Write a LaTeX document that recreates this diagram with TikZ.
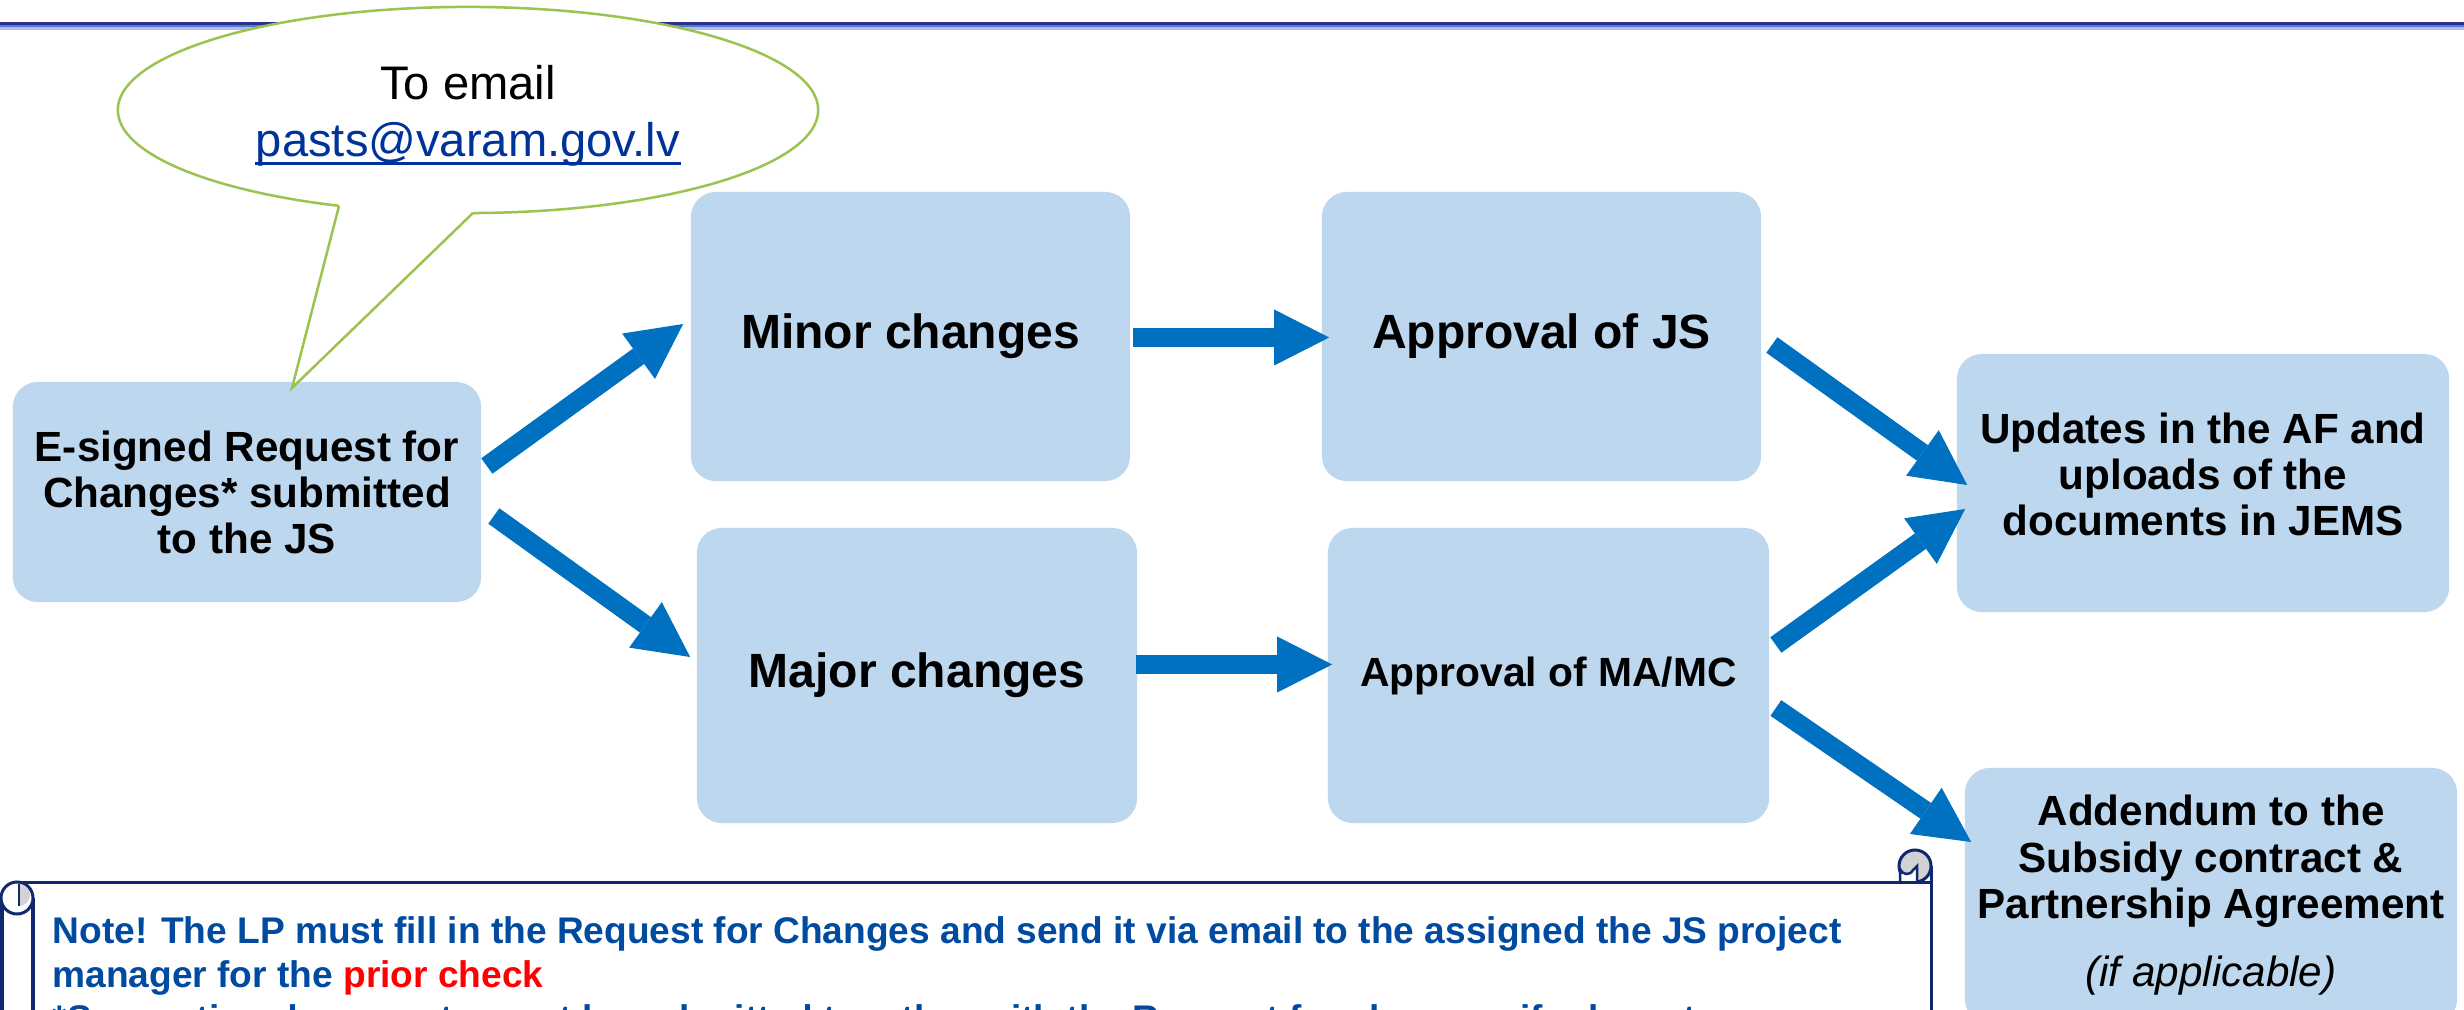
\documentclass[tikz,border=0pt]{standalone}
\usepackage{fontspec}
\setmainfont{Liberation Sans}
\usetikzlibrary{arrows.meta,calc}
\definecolor{boxblue}{RGB}{189,215,238}
\definecolor{arrowblue}{RGB}{0,112,192}
\definecolor{calloutgreen}{RGB}{155,195,80}
\definecolor{maillink}{RGB}{0,51,153}
\definecolor{notenavy}{RGB}{16,40,110}
\definecolor{notetext}{RGB}{0,75,160}
\definecolor{rulenavy}{RGB}{40,50,140}
\definecolor{ruleblue}{RGB}{90,120,210}
\definecolor{rulelight}{RGB}{175,190,236}
\definecolor{curlgray}{RGB}{210,210,210}
\begin{document}
\begin{tikzpicture}[x=0.01cm,y=-0.01cm,
  stepbox/.style={fill=boxblue, rounded corners=0.25cm, inner sep=0pt, align=center,
    font=\bfseries\fontsize{12}{13.1}\selectfont},
  bigtext/.style={font=\bfseries\fontsize{13.66}{15}\selectfont},
  blk/.style={draw=arrowblue, line width=0.19cm,
    -{Triangle[length=0.55cm,width=0.56cm,line width=0pt]}},
  notestyle/.style={anchor=base west, inner sep=0pt, text=notetext,
    font=\bfseries\fontsize{10.55}{12}\selectfont},
  scrollline/.style={draw=notenavy, line width=0.03cm},
  addtext/.style={anchor=base, inner sep=0pt, font=\bfseries\fontsize{12}{13.1}\selectfont}
]
\useasboundingbox (0,0) rectangle (2464,1010);
\clip (0,0) rectangle (2464,1010);
\fill[white] (0,0) rectangle (2464,1010);

% top rule
\draw[rulenavy, line width=0.025cm] (0,23.5) -- (2464,23.5);
\draw[ruleblue, line width=0.02cm] (0,25.8) -- (2464,25.8);
\draw[rulelight, line width=0.03cm] (0,28.5) -- (2464,28.5);

% boxes
\node[stepbox, minimum width=4.68cm, minimum height=2.2cm] (req) at (247,492)
  {E-signed Request for\\Changes* submitted\\to the JS};
\node[stepbox, bigtext, minimum width=4.39cm, minimum height=2.89cm] (minor) at (910.5,336.5) {Minor changes};
\node[stepbox, bigtext, minimum width=4.39cm, minimum height=2.89cm] (js) at (1541.5,336.5) {Approval of JS};
\node[stepbox, bigtext, minimum width=4.40cm, minimum height=2.95cm] (major) at (917,675.5) {Major changes};
\node[stepbox, minimum width=4.41cm, minimum height=2.95cm, font=\bfseries\fontsize{11.6}{13}\selectfont] (mamc) at (1548.5,675.5) {Approval of MA/MC};
\node[stepbox, minimum width=4.92cm, minimum height=2.58cm] (upd) at (2203,483) {};
\node[align=center, inner sep=0pt, font=\bfseries\fontsize{12}{13.1}\selectfont] (updtext) at (2203,474)
  {Updates in the AF and\\uploads of the\\documents in JEMS};
\node[stepbox, minimum width=4.92cm, minimum height=2.56cm] (add) at (2211,896) {};
\node[addtext] (add1) at (2211,825) {Addendum to the};
\node[addtext] (add2) at (2211,872) {Subsidy contract \&};
\node[addtext] (add3) at (2211,918) {Partnership Agreement};
\node[addtext, font=\itshape\fontsize{12}{13.1}\selectfont] (add4) at (2211,986) {(if applicable)};

% arrows
\draw[blk] ($(req.east)+(5,-26)$) -- ($(minor.west)+(-7,-12.5)$);
\draw[blk] ($(req.east)+(12,24)$) -- ($(major.west)+(-6,-18.5)$);
\draw[blk] ($(minor.east)+(2,1)$) -- ($(js.west)+(8,1)$);
\draw[blk] ($(major.east)+(-2,-11)$) -- ($(mamc.west)+(5,-11)$);
\draw[blk] ($(js.east)+(10,8.5)$) -- ($(upd.west)+(11,2)$);
\draw[blk] ($(mamc.east)+(6,-30.5)$) -- ($(upd.west)+(9,26)$);
\draw[blk] ($(mamc.east)+(6,32.5)$) -- ($(add.west)+(7,-54)$);

% callout
\draw[calloutgreen, line width=0.025cm, fill=white] (468,110) ellipse [x radius=3.5cm, y radius=1.03cm];
\fill[white] (292,388) -- (339,206) -- (339,192) -- (473,192) -- (473,213) -- cycle;
\draw[calloutgreen, line width=0.025cm, line join=miter] (339,206) -- (292,388) -- (473,213);
\node[anchor=base, inner sep=0pt, font=\fontsize{13.4}{16}\selectfont] (toemail) at (468,100) {To email};
\node[anchor=base, inner sep=0pt, text=maillink, font=\fontsize{13.4}{16}\selectfont] (mail) at (468,157) {pasts@varam.gov.lv};
\draw[maillink, line width=0.03cm] ($(mail.base west)+(0,7)$) -- ($(mail.base east)+(0,7)$);

% scroll
\fill[white] (2,882) rectangle (1931,1030);
\draw[scrollline] (1931,1030) -- (1931,866);
\draw[scrollline] (17,882) -- (1915,882);
\draw[scrollline] (2,1030) -- (2,898);
\draw[scrollline] (33,1030) -- (33,898);
\draw[scrollline, fill=white] (17,898) circle[radius=0.16cm];
\fill[curlgray] (19,884) arc[start angle=90, end angle=-90, radius=0.11cm] -- cycle;
\draw[draw=notenavy, line width=0.02cm] (19,884) -- (19,906);
\draw[scrollline, fill=curlgray] (1915,866) circle[radius=0.16cm];
\filldraw[fill=white, draw=notenavy, line width=0.025cm] (1900,882) -- (1900,869) .. controls (1902,875) and (1910,876) .. (1913,870) -- (1917,866) -- (1917,882);
\draw[scrollline] (1900,882) -- (1931,882);

\node[notestyle] (note1) at (52,943) {Note! The LP must fill in the Request for Changes and send it via email to the assigned the JS project};
\node[notestyle] (note2) at (52,987) {manager for the \textcolor{red}{prior check}};
\node[notestyle] (note3) at (52,1031) {*Supporting documents must be submitted together with the Request for changes, if relevant};
\end{tikzpicture}
\end{document}
